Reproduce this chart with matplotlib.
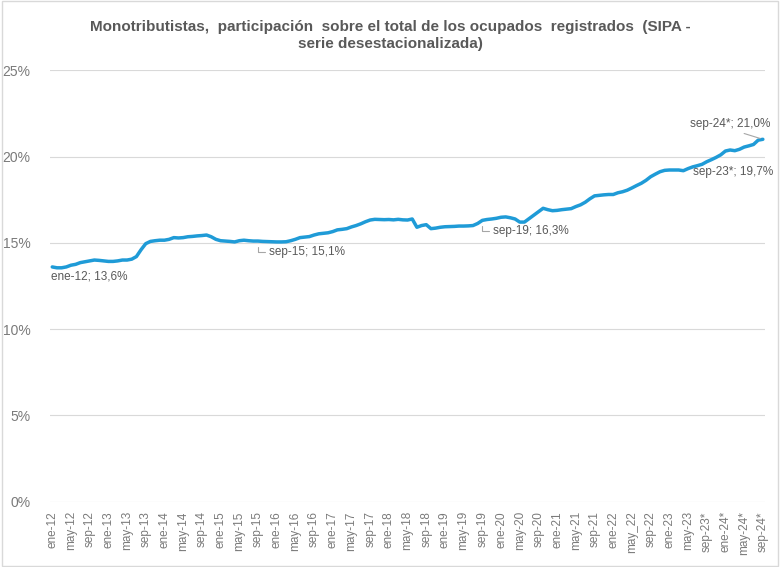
import numpy as np
import matplotlib
matplotlib.use("Agg")
import matplotlib.pyplot as plt
from matplotlib.patches import Rectangle

# Serie mensual ene-12 .. sep-24 (% del total de ocupados registrados)
v2012 = [13.60, 13.55, 13.55, 13.60, 13.70, 13.75, 13.85, 13.90, 13.95, 14.00, 13.98, 13.95]
v2013 = [13.92, 13.92, 13.95, 14.00, 14.00, 14.05, 14.20, 14.60, 14.95, 15.08, 15.12, 15.15]
v2014 = [15.15, 15.20, 15.30, 15.28, 15.30, 15.35, 15.37, 15.40, 15.42, 15.45, 15.35, 15.20]
v2015 = [15.12, 15.10, 15.08, 15.05, 15.12, 15.15, 15.12, 15.10, 15.10, 15.08, 15.07, 15.06]
v2016 = [15.05, 15.05, 15.06, 15.12, 15.20, 15.30, 15.33, 15.36, 15.45, 15.52, 15.55, 15.58]
v2017 = [15.65, 15.75, 15.78, 15.82, 15.92, 16.00, 16.10, 16.22, 16.32, 16.36, 16.35, 16.34]
v2018 = [16.35, 16.33, 16.36, 16.33, 16.32, 16.38, 15.90, 16.00, 16.05, 15.82, 15.85, 15.90]
v2019 = [15.93, 15.94, 15.95, 15.97, 15.97, 15.98, 16.00, 16.12, 16.30, 16.35, 16.38, 16.42]
v2020 = [16.48, 16.50, 16.45, 16.38, 16.20, 16.20, 16.40, 16.60, 16.80, 17.00, 16.92, 16.86]
v2021 = [16.88, 16.92, 16.95, 16.98, 17.10, 17.20, 17.35, 17.55, 17.72, 17.75, 17.78, 17.80]
v2022 = [17.80, 17.90, 17.96, 18.05, 18.18, 18.32, 18.45, 18.62, 18.83, 18.98, 19.12, 19.20]
v2023 = [19.22, 19.22, 19.22, 19.18, 19.30, 19.40, 19.47, 19.55, 19.70, 19.82, 19.95, 20.10]
v2024 = [20.32, 20.38, 20.34, 20.42, 20.55, 20.62, 20.70, 20.95, 21.00]

valores = (v2012 + v2013 + v2014 + v2015 + v2016 + v2017 + v2018 + v2019
           + v2020 + v2021 + v2022 + v2023 + v2024)

etiquetas_x = ["ene-12", "may-12", "sep-12", "ene-13", "may-13", "sep-13",
               "ene-14", "may-14", "sep-14", "ene-15", "may-15", "sep-15",
               "ene-16", "may-16", "sep-16", "ene-17", "may-17", "sep-17",
               "ene-18", "may-18", "sep-18", "ene-19", "may-19", "sep-19",
               "ene-20", "may-20", "sep-20", "ene-21", "may-21", "sep-21",
               "ene-22", "may_22", "sep-22", "ene-23", "may-23", "sep-23*",
               "ene-24*", "may-24*", "sep-24*"]

# etiquetas de datos: (indice del mes, texto)
anotaciones = [(0, "ene-12; 13,6%"), (44, "sep-15; 15,1%"), (92, "sep-19; 16,3%"),
               (140, "sep-23*; 19,7%"), (152, "sep-24*; 21,0%")]

gris = "#595959"
gris_claro = "#7a7a7a"
azul = "#1f9bd7"
fuente = ["Liberation Sans", "DejaVu Sans"]

x = np.arange(len(valores))

fig = plt.figure(figsize=(7.8, 5.67), dpi=100)
ax = fig.add_axes([0.064, 0.1155, 0.917, 0.7605])

ax.plot(x, valores, color=azul, lw=2.5, solid_capstyle="round", solid_joinstyle="round", zorder=3)

ax.set_xlim(-0.5, len(valores) - 0.5)
ax.set_ylim(0, 25)
ax.set_yticks(np.arange(0, 26, 5))
ax.set_yticklabels([f"{v}%" for v in range(0, 26, 5)], fontsize=10, color=gris_claro, family=fuente)
ax.set_xticks(x[::4])
ax.set_xticklabels(etiquetas_x, rotation=90, fontsize=8.5, color=gris_claro, family=fuente)
ax.tick_params(axis="both", length=0)
ax.tick_params(axis="y", pad=14)
ax.tick_params(axis="x", pad=7)
ax.grid(axis="y", color="#d9d9d9", lw=0.8)
ax.set_axisbelow(True)
for s in ax.spines.values():
    s.set_visible(False)

# etiquetas con líneas guía
estilo = dict(fontsize=8.5, color=gris, family=fuente, textcoords="offset pixels")
guia = dict(arrowstyle="-", color="#a6a6a6", lw=0.8)

i, t = anotaciones[0]
ax.annotate(t, (x[i], valores[i]), xytext=(-1, -10), ha="left", va="center", **estilo)

for i, t in anotaciones[1:3]:
    ax.annotate(t, (x[i], valores[i]), xytext=(11, -11), ha="left", va="center",
                arrowprops=dict(connectionstyle="angle,angleA=180,angleB=90,rad=0",
                                relpos=(0, 0.5), shrinkA=1, shrinkB=4, **guia), **estilo)

i, t = anotaciones[3]
ax.annotate(t, (x[i], valores[i]), xytext=(-14, -10), ha="left", va="center", **estilo)

i, t = anotaciones[4]
ax.annotate(t, (x[i], valores[i]), xytext=(-33, 15), ha="center", va="center",
            arrowprops=dict(relpos=(0.55, 0), shrinkA=1, shrinkB=2, **guia), **estilo)

fig.text(0.5, 0.965, "Monotributistas,  participación  sobre el total de los ocupados  registrados  (SIPA -\nserie desestacionalizada)",
         ha="center", va="top", fontsize=11, fontweight="bold", color=gris,
         family=["Liberation Sans Narrow", "Liberation Sans", "DejaVu Sans"], linespacing=1.3)

fig.patches.append(Rectangle((0.002, 0.002), 0.996, 0.996, transform=fig.transFigure,
                             fill=False, edgecolor="#d9d9d9", lw=1))

fig.savefig("out.png", dpi=100)
